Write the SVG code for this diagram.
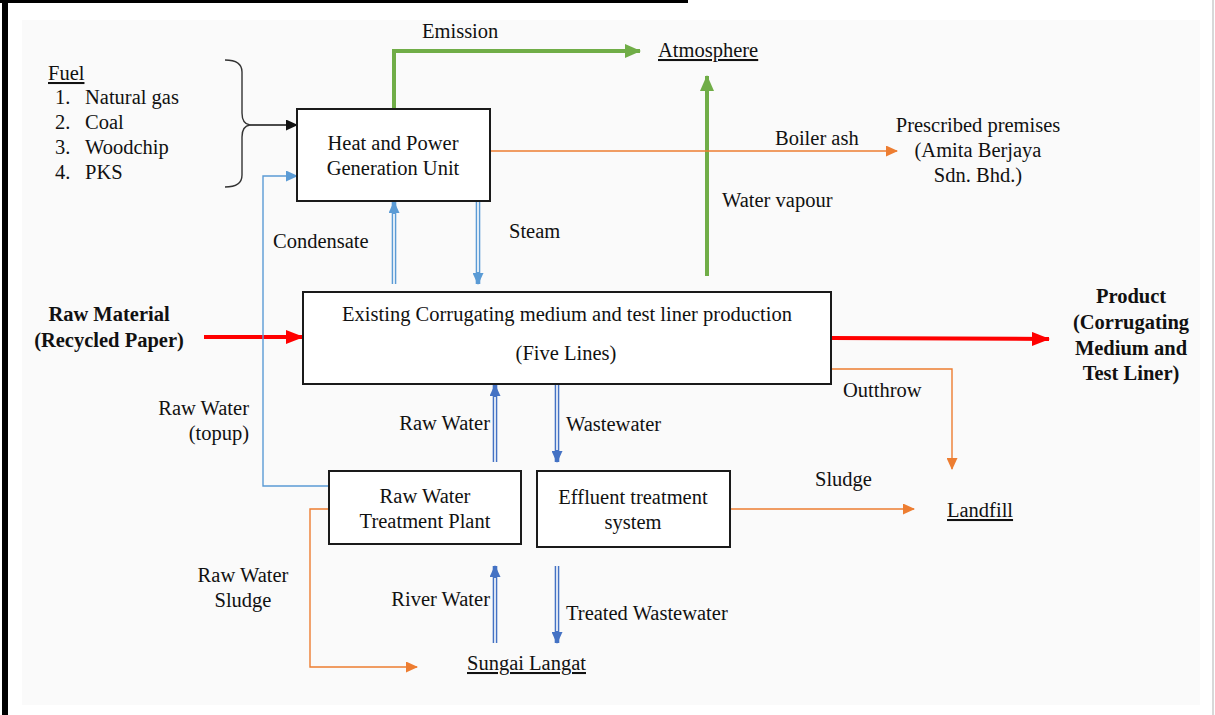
<svg xmlns="http://www.w3.org/2000/svg" width="1215" height="715" viewBox="0 0 1215 715">
  <style>
    text { font-family: "Liberation Serif", "Times New Roman", serif; font-size: 20.5px; fill: #111; }
    .b { font-weight: bold; }
    .mid { text-anchor: middle; }
    .end { text-anchor: end; }
    .u { text-decoration: underline; }
    .box { fill: #ffffff; stroke: #1a1a1a; stroke-width: 2; }
    .green { fill: none; stroke: #70ad47; stroke-width: 4; }
    .red { fill: none; stroke: #ff0000; stroke-width: 4; }
    .orange { fill: none; stroke: #ed7d31; stroke-width: 1.4; }
    .lblue { fill: none; stroke: #5b9bd5; stroke-width: 1.4; }
    .dbl-l { fill: none; stroke: #5b9bd5; stroke-width: 4.6; }
    .dbl-d { fill: none; stroke: #4472c4; stroke-width: 4.6; }
    .gap { fill: none; stroke: #ffffff; stroke-width: 1.6; }
  </style>
  <defs>
    <marker id="hGreen" markerUnits="userSpaceOnUse" markerWidth="16" markerHeight="14" refX="15" refY="7" orient="auto">
      <path d="M0,0 L16,7 L0,14 Z" fill="#70ad47"/>
    </marker>
    <marker id="hRed" markerUnits="userSpaceOnUse" markerWidth="18" markerHeight="14" refX="17" refY="7" orient="auto">
      <path d="M0,0 L18,7 L0,14 Z" fill="#ff0000"/>
    </marker>
    <marker id="hOrange" markerUnits="userSpaceOnUse" markerWidth="12" markerHeight="11" refX="11" refY="5.5" orient="auto">
      <path d="M0,0 L12,5.5 L0,11 Z" fill="#ed7d31"/>
    </marker>
    <marker id="hLBlue" markerUnits="userSpaceOnUse" markerWidth="12" markerHeight="11" refX="11" refY="5.5" orient="auto">
      <path d="M0,0 L12,5.5 L0,11 Z" fill="#5b9bd5"/>
    </marker>
    <marker id="hDBlue" markerUnits="userSpaceOnUse" markerWidth="12" markerHeight="11" refX="11" refY="5.5" orient="auto">
      <path d="M0,0 L12,5.5 L0,11 Z" fill="#4472c4"/>
    </marker>
    <marker id="hBlack" markerUnits="userSpaceOnUse" markerWidth="12" markerHeight="11" refX="11" refY="5.5" orient="auto">
      <path d="M0,0 L12,5.5 L0,11 Z" fill="#111"/>
    </marker>
  </defs>

  <!-- page frame -->
  <rect x="0" y="0" width="1215" height="715" fill="#ffffff"/>
  <rect x="22" y="20" width="1178" height="685" fill="#fafafa"/>
  <rect x="2" y="0" width="6" height="715" fill="#000"/>
  <rect x="0" y="0" width="688" height="3" fill="#000"/>
  <rect x="1212" y="0" width="2" height="715" fill="#d8d8d8"/>

  <!-- connectors -->
  <g id="connectors">
    <!-- fuel brace and feed -->
    <path d="M225,60 Q242,60 242,72 L242,113 Q242,124 250,125 Q242,126 242,137 L242,175 Q242,187 225,187" fill="none" stroke="#333" stroke-width="1.4"/>
    <line x1="250" y1="125" x2="297" y2="125" stroke="#111" stroke-width="1.6" marker-end="url(#hBlack)"/>

    <!-- emission and water vapour -->
    <path class="green" d="M394,109 L394,51 L640,51" marker-end="url(#hGreen)"/>
    <path class="green" d="M707,276 L707,76" marker-end="url(#hGreen)"/>

    <!-- boiler ash -->
    <path class="orange" d="M490,151 L897,151" marker-end="url(#hOrange)"/>

    <!-- condensate / steam -->
    <path class="dbl-l" d="M394,284 L394,202" marker-end="url(#hLBlue)"/>
    <path class="gap" d="M394,284 L394,214"/>
    <path class="dbl-l" d="M478,202 L478,284" marker-end="url(#hLBlue)"/>
    <path class="gap" d="M478,202 L478,272"/>

    <!-- raw material / product -->
    <path class="red" d="M204,337 L303,337" marker-end="url(#hRed)"/>
    <path class="red" d="M831,338 L1049,339" marker-end="url(#hRed)"/>

    <!-- outthrow -->
    <path class="orange" d="M831,369 L952,369 L952,469" marker-end="url(#hOrange)"/>

    <!-- raw water top-up -->
    <path class="lblue" d="M329,486 L263,486 L263,176 L297,176" marker-end="url(#hLBlue)"/>

    <!-- raw water / wastewater -->
    <path class="dbl-d" d="M495,462 L495,385" marker-end="url(#hDBlue)"/>
    <path class="gap" d="M495,462 L495,397"/>
    <path class="dbl-d" d="M557,385 L557,462" marker-end="url(#hDBlue)"/>
    <path class="gap" d="M557,385 L557,450"/>

    <!-- sludge to landfill -->
    <path class="orange" d="M730,509 L914,509" marker-end="url(#hOrange)"/>

    <!-- raw water sludge -->
    <path class="orange" d="M329,509 L310,509 L310,667 L417,667" marker-end="url(#hOrange)"/>

    <!-- river water / treated wastewater -->
    <path class="dbl-d" d="M495,643 L495,566" marker-end="url(#hDBlue)"/>
    <path class="gap" d="M495,643 L495,578"/>
    <path class="dbl-d" d="M557,566 L557,643" marker-end="url(#hDBlue)"/>
    <path class="gap" d="M557,566 L557,631"/>
  </g>

  <!-- nodes -->
  <g id="fuel">
    <text x="48" y="80" class="u">Fuel</text>
    <text x="55" y="104">1.</text><text x="85" y="104">Natural gas</text>
    <text x="55" y="129">2.</text><text x="85" y="129">Coal</text>
    <text x="55" y="154">3.</text><text x="85" y="154">Woodchip</text>
    <text x="55" y="179">4.</text><text x="85" y="179">PKS</text>
  </g>

  <g id="heat-power">
    <rect class="box" x="297" y="109" width="193" height="92"/>
    <text x="393" y="150" class="mid">Heat and Power</text>
    <text x="393" y="175" class="mid">Generation Unit</text>
  </g>

  <g id="production">
    <rect class="box" x="303" y="292" width="528" height="92"/>
    <text x="567" y="321" class="mid">Existing Corrugating medium and test liner production</text>
    <text x="566" y="360" class="mid">(Five Lines)</text>
  </g>

  <g id="raw-water-plant">
    <rect class="box" x="329" y="471" width="192" height="73"/>
    <text x="425" y="503" class="mid">Raw Water</text>
    <text x="425" y="528" class="mid">Treatment Plant</text>
  </g>

  <g id="effluent">
    <rect class="box" x="537" y="471" width="193" height="76"/>
    <text x="633" y="504" class="mid">Effluent treatment</text>
    <text x="633" y="529" class="mid">system</text>
  </g>

  <g id="atmosphere"><text x="658" y="57" class="u">Atmosphere</text></g>
  <g id="prescribed-premises">
    <text x="978" y="132" class="mid">Prescribed premises</text>
    <text x="978" y="157" class="mid">(Amita Berjaya</text>
    <text x="978" y="182" class="mid">Sdn. Bhd.)</text>
  </g>
  <g id="raw-material">
    <text x="109" y="321" class="mid b">Raw Material</text>
    <text x="109" y="347" class="mid b">(Recycled Paper)</text>
  </g>
  <g id="product">
    <text x="1131" y="303" class="mid b">Product</text>
    <text x="1131" y="329" class="mid b">(Corrugating</text>
    <text x="1131" y="355" class="mid b">Medium and</text>
    <text x="1131" y="380" class="mid b">Test Liner)</text>
  </g>
  <g id="landfill"><text x="947" y="517" class="u">Landfill</text></g>
  <g id="sungai-langat"><text x="467" y="670" class="u">Sungai Langat</text></g>

  <!-- flow labels -->
  <g id="labels">
    <text x="422" y="38">Emission</text>
    <text x="775" y="145">Boiler ash</text>
    <text x="722" y="207">Water vapour</text>
    <text x="273" y="248">Condensate</text>
    <text x="509" y="238">Steam</text>
    <text x="843" y="397">Outthrow</text>
    <text x="249" y="415" class="end">Raw Water</text>
    <text x="249" y="440" class="end">(topup)</text>
    <text x="490" y="430" class="end">Raw Water</text>
    <text x="566" y="431">Wastewater</text>
    <text x="815" y="486">Sludge</text>
    <text x="243" y="582" class="mid">Raw Water</text>
    <text x="243" y="607" class="mid">Sludge</text>
    <text x="490" y="606" class="end">River Water</text>
    <text x="566" y="620">Treated Wastewater</text>
  </g>
</svg>
